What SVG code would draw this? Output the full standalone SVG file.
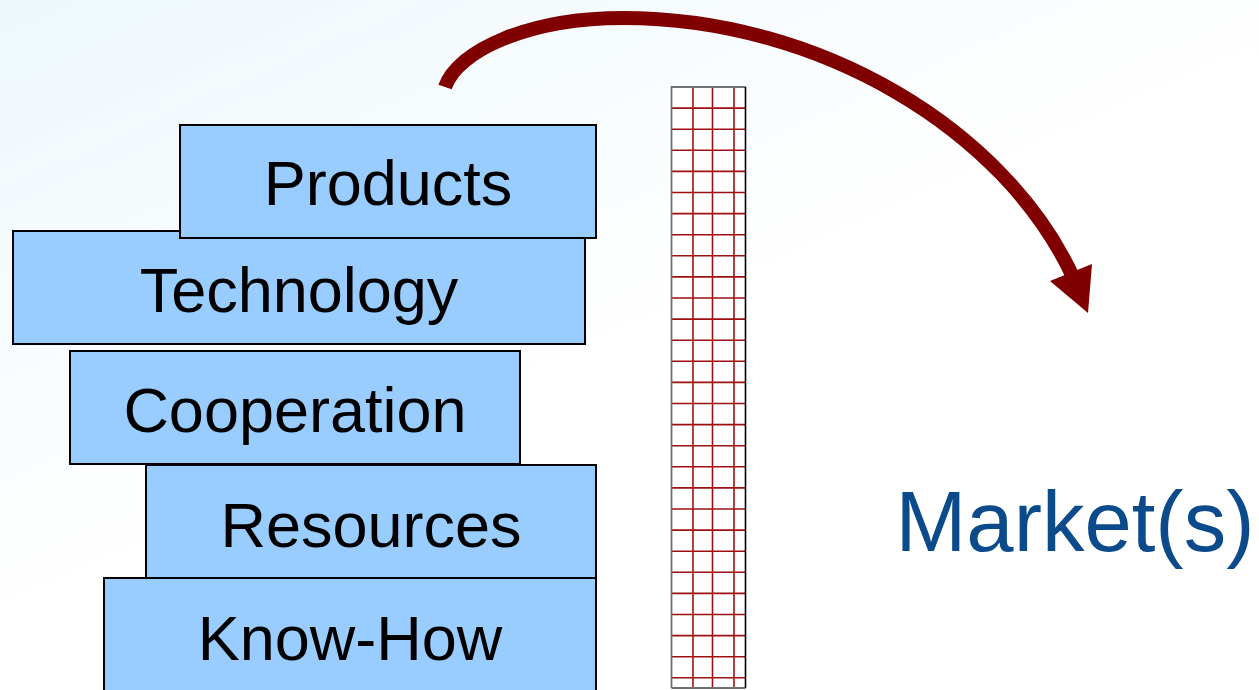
<svg xmlns="http://www.w3.org/2000/svg" width="1259" height="690" viewBox="0 0 1259 690">
<defs>
<linearGradient id="bg" x1="0" y1="0" x2="0.45" y2="0.55">
<stop offset="0" stop-color="#EEF8FC"/>
<stop offset="1" stop-color="#FFFFFF"/>
</linearGradient>
<style>
.box{fill:#99CCFF;stroke:#000000;stroke-width:2}
.lbl{font-family:"Liberation Sans",Arial,sans-serif;font-size:63px;fill:#000000;text-anchor:middle}
.mkt{font-family:"Liberation Sans",Arial,sans-serif;font-size:85px;fill:#0B4A8B;text-anchor:middle}
.grid{stroke:#A00F0F;stroke-width:1.6;fill:none}
.arrow{stroke:#800000;stroke-width:14;fill:none;stroke-linecap:butt}
</style>
</defs>
<rect x="0" y="0" width="1259" height="690" fill="url(#bg)"/>

<g id="wall">
<rect x="671.5" y="87" width="74" height="601" fill="#FFFFFF"/>
<path class="grid" d="M693,87V688M712.5,87V688M734,87V688
M671.5,108.1H745.5M671.5,129.2H745.5M671.5,150.3H745.5M671.5,171.4H745.5M671.5,192.5H745.5M671.5,213.6H745.5M671.5,234.7H745.5M671.5,255.8H745.5M671.5,276.9H745.5M671.5,298H745.5M671.5,319.1H745.5M671.5,340.2H745.5M671.5,361.3H745.5M671.5,382.4H745.5M671.5,403.5H745.5M671.5,424.6H745.5M671.5,445.7H745.5M671.5,466.8H745.5M671.5,487.9H745.5M671.5,509H745.5M671.5,530.1H745.5M671.5,551.2H745.5M671.5,572.3H745.5M671.5,593.4H745.5M671.5,614.5H745.5M671.5,635.6H745.5M671.5,656.7H745.5M671.5,677.8H745.5"/>
<path d="M671.5,688V87H745.5" fill="none" stroke="#707070" stroke-width="1.8"/>
<path d="M671.5,688H745.5" fill="none" stroke="#707070" stroke-width="1.8"/>
<path d="M745.5,87V688" fill="none" stroke="#000000" stroke-width="1.6"/>
</g>

<g id="knowhow">
<rect class="box" x="104" y="578" width="492" height="120"/>
<text class="lbl" x="350" y="660">Know-How</text>
</g>
<g id="resources">
<rect class="box" x="146" y="465" width="450" height="113"/>
<text class="lbl" x="371" y="547">Resources</text>
</g>
<g id="cooperation">
<rect class="box" x="70" y="351" width="450" height="113"/>
<text class="lbl" x="295" y="432">Cooperation</text>
</g>
<g id="technology">
<rect class="box" x="13" y="231" width="572" height="113"/>
<text class="lbl" x="299" y="312">Technology</text>
</g>
<g id="products">
<rect class="box" x="180" y="125" width="416" height="113"/>
<text class="lbl" x="388" y="205">Products</text>
</g>

<g id="market">
<text class="mkt" x="1075" y="551">Market(s)</text>
</g>

<g id="connectors">
<path class="arrow" d="M445,87 C458,50 530,18 623,18 C820,18 1005,130 1073,277"/>
<polygon points="1050,281 1092,264 1088,313" fill="#800000"/>
</g>
</svg>
